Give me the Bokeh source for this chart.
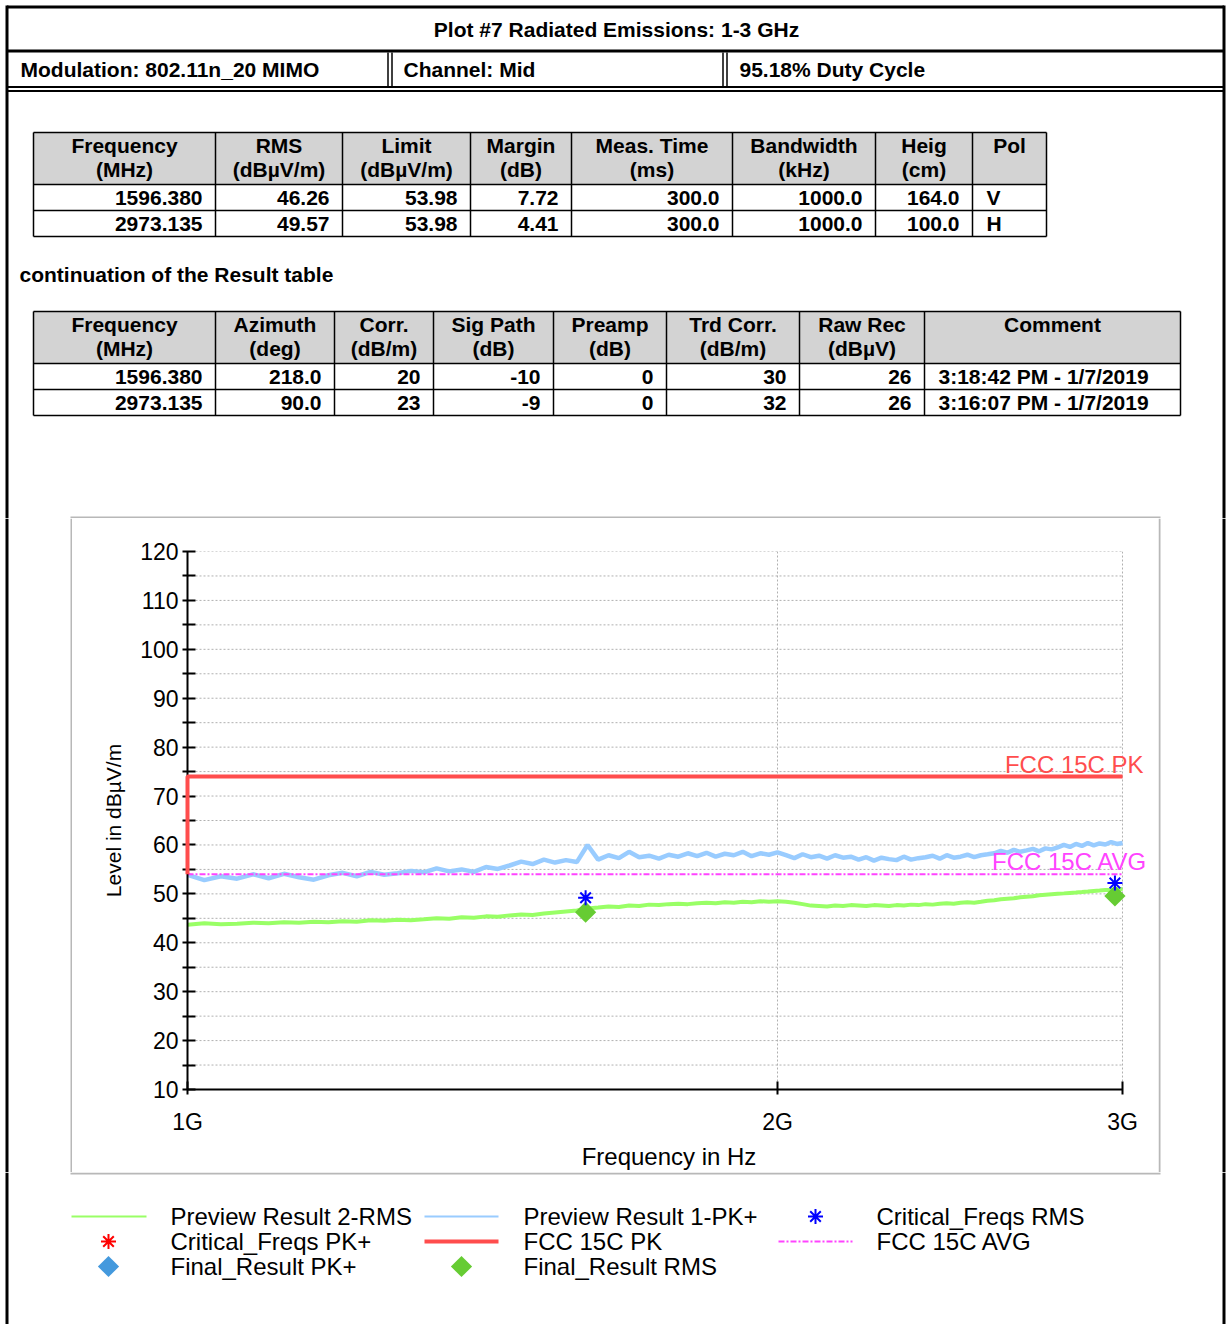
import numpy as np
from bokeh.plotting import figure
from bokeh.layouts import column, row
from bokeh.models import Range1d, FixedTicker, CustomJSTickFormatter, Label
from bokeh.core.properties import value
from bokeh.embed import file_html
from bokeh.resources import INLINE

# ---------------- data ----------------
TITLE = "Plot #7 Radiated Emissions: 1-3 GHz"
HEADER_CELLS = ["Modulation: 802.11n_20 MIMO", "Channel: Mid", "95.18% Duty Cycle"]

T1_HEAD1 = ["Frequency", "RMS", "Limit", "Margin", "Meas. Time", "Bandwidth", "Heig", "Pol"]
T1_HEAD2 = ["(MHz)", "(dBµV/m)", "(dBµV/m)", "(dB)", "(ms)", "(kHz)", "(cm)", ""]
T1_FREQ = ["1596.380", "2973.135"]
T1_RMS = ["46.26", "49.57"]
T1_LIMIT = ["53.98", "53.98"]
T1_MARGIN = ["7.72", "4.41"]
T1_MEAS = ["300.0", "300.0"]
T1_BW = ["1000.0", "1000.0"]
T1_HEIGHT = ["164.0", "100.0"]
T1_POL = ["V", "H"]

T2_HEAD1 = ["Frequency", "Azimuth", "Corr.", "Sig Path", "Preamp", "Trd Corr.", "Raw Rec", "Comment"]
T2_HEAD2 = ["(MHz)", "(deg)", "(dB/m)", "(dB)", "(dB)", "(dB/m)", "(dBµV)", ""]
T2_FREQ = ["1596.380", "2973.135"]
T2_AZIMUTH = ["218.0", "90.0"]
T2_CORR = ["20", "23"]
T2_SIGPATH = ["-10", "-9"]
T2_PREAMP = ["0", "0"]
T2_TRD = ["30", "32"]
T2_RAW = ["26", "26"]
T2_COMMENT = ["3:18:42 PM - 1/7/2019", "3:16:07 PM - 1/7/2019"]
CAPTION = "continuation of the Result  table"

# sweep frequencies (MHz) of the preview traces
SWEEP_MHZ = list(range(1000, 3001, 20))
PREVIEW_PK = [
    53.9, 52.8, 53.6, 53.1, 54.0,
    53.2, 54.1, 53.4, 52.9, 53.8,
    54.3, 53.6, 54.5, 53.9, 54.2, 54.7,
    54.4, 55.2, 54.6, 55.0, 54.5, 55.5, 55.1,
    55.8, 56.6, 56.1, 57.0, 56.4, 56.9, 56.5,
    60.0,
    57.0, 57.9, 57.3, 58.6, 57.5, 57.8, 57.2, 58.0, 57.6, 58.3, 57.7,
    58.4, 57.6, 58.2, 57.9, 58.6, 57.7, 58.3, 58.0, 58.5,
    57.9, 57.3, 58.1, 57.5, 57.8, 57.2, 57.9, 57.4, 57.6,
    57.0, 57.5, 56.8, 57.4, 57.1, 56.9, 57.6, 57.0, 57.3, 57.5,
    57.8, 57.2, 57.9, 57.4, 57.6, 58.0, 57.5, 57.9, 58.1,
    58.3, 58.8, 58.4, 59.0, 58.6, 58.9, 59.2, 58.7, 59.3, 59.1,
    59.5, 60.0, 59.6, 60.2, 59.8, 60.4, 59.9, 60.3, 60.1, 60.6, 60.2, 60.4,
]
PREVIEW_RMS = [
    43.7, 44.0, 43.8, 43.9, 44.1,
    44.0, 44.2, 44.1, 44.3, 44.2,
    44.4, 44.3, 44.6, 44.5, 44.7, 44.6,
    44.8, 45.0, 44.9, 45.2, 45.1, 45.4, 45.3,
    45.6, 45.8, 45.7, 46.0, 46.2, 46.4, 46.6,
    47.0,
    47.2, 47.4, 47.3, 47.6, 47.5, 47.8, 47.7, 47.9, 48.0, 47.9, 48.1,
    48.2, 48.1, 48.3, 48.2, 48.4, 48.3, 48.5, 48.4, 48.5,
    48.4, 48.2, 47.9, 47.6, 47.5, 47.4, 47.6, 47.5, 47.7,
    47.6, 47.5, 47.7, 47.6, 47.5, 47.7, 47.6, 47.8, 47.7, 47.9,
    47.8, 48.0, 48.1, 48.0, 48.2, 48.3, 48.2, 48.4, 48.6,
    48.7, 48.9, 49.0, 49.1, 49.3, 49.4, 49.5, 49.7, 49.8, 49.9,
    50.0, 50.1, 50.2, 50.3, 50.4, 50.5, 50.6, 50.7, 50.8, 50.8, 50.9, 51.0,
]
CRIT_FREQ_MHZ = [1596.380, 2973.135]
CRIT_RMS = [49.2, 52.2]
FINAL_FREQ_MHZ = [1596.380, 2973.135]
FINAL_RMS = [46.26, 49.57]
LIMIT_PK_MHZ = [1000, 1000, 3000]
LIMIT_PK = [54, 74, 74]
LIMIT_AVG_MHZ = [1000, 3000]
LIMIT_AVG = [54, 54]
Y_TICKS = list(range(10, 121, 10))
Y_MINOR = list(range(15, 120, 10))
X_TICKS_HZ = [1e9, 2e9, 3e9]

# colours
C_RMS = "#99ff66"
C_PK = "#99ccff"
C_LIM_PK = "#ff4d4d"
C_LIM_AVG = "#ff44ff"
C_CRIT_RMS = "#0000ff"
C_CRIT_PK = "#ff0000"
C_FINAL_RMS = "#66cc33"
C_FINAL_PK = "#4499dd"
C_BOX = "#b8b8b8"
C_GRID = "#b0b0b0"
FONT = "Liberation Sans"

# ---------------- helpers ----------------
def canvas(x0, x1, y0, y1):
    p = figure(width=x1 - x0, height=y1 - y0,
               x_range=Range1d(x0, x1), y_range=Range1d(y1, y0),
               output_backend="svg", toolbar_location=None,
               x_axis_location=None, y_axis_location=None, min_border=0,
               frame_align=False)
    p.outline_line_color = None
    p.background_fill_color = "white"
    p.border_fill_color = "white"
    p.grid.visible = False
    return p


def seg(p, x0, y0, x1, y1, w=1.5, color="black"):
    p.segment(x0=x0, y0=y0, x1=x1, y1=y1, line_color=color, line_width=w)


def txt(p, xs, ys, texts, align="left", size="21px", bold=True, color="black"):
    p.text(x=xs, y=ys, text=texts, text_align=align, text_baseline="middle",
           text_font=value(FONT), text_font_size=size,
           text_font_style="bold" if bold else "normal", text_color=color)


def draw_table(p, cols, top, head_bot, row_h, head1, head2, rows, aligns):
    right = cols[-1]
    nrows = len(rows)
    p.quad(left=[cols[0]], right=[right], top=[top], bottom=[head_bot],
           fill_color="#d3d3d3", line_color=None)
    ys = [top, head_bot] + [head_bot + row_h * (i + 1) for i in range(nrows)]
    seg(p, [cols[0]] * len(ys), ys, [right] * len(ys), ys, 1.5)
    seg(p, cols, [top] * len(cols), cols, [ys[-1]] * len(cols), 1.5)
    centers = [(a + b) / 2 for a, b in zip(cols[:-1], cols[1:])]
    txt(p, centers, [top + 13] * len(centers), head1, align="center")
    txt(p, centers, [top + 37] * len(centers), head2, align="center")
    for r, vals in enumerate(rows):
        y = head_bot + row_h * r + row_h / 2
        xs = [cols[c + 1] - 13 if aligns[c] == "right" else cols[c] + 14 for c in range(len(vals))]
        for a in ("left", "right"):
            idx = [i for i in range(len(vals)) if aligns[i] == a]
            if idx:
                txt(p, [xs[i] for i in idx], [y] * len(idx), [vals[i] for i in idx], align=a)


# ---------------- page layout ----------------
PX0, PX1 = 0, 1226
PY0, BOX_T, BOX_B, PY1 = 0, 518, 1172, 1324
BOX_L, BOX_R = 72, 1158
LB, RB = 6.5, 1223.5

# top part: header + tables
top = canvas(PX0, PX1, PY0, BOX_T)
seg(top, [LB, LB], [6.5, 50.5], [RB, RB], [6.5, 50.5], 3)
seg(top, [LB, LB], [86.5, 90.5], [RB, RB], [86.5, 90.5], 2)
seg(top, [387.5, 391.5, 722.5, 726.5], [52] * 4, [387.5, 391.5, 722.5, 726.5], [86] * 4, 1.5)
seg(top, [LB, RB], [5, 5], [LB, RB], [BOX_T, BOX_T], 3)
txt(top, [616], [29], [TITLE], align="center")
txt(top, [20, 403, 739], [69, 69, 69], HEADER_CELLS)

T1_ROWS = [list(r) for r in zip(T1_FREQ, T1_RMS, T1_LIMIT, T1_MARGIN, T1_MEAS, T1_BW, T1_HEIGHT, T1_POL)]
draw_table(top, [33, 215, 342, 470, 571, 732, 875, 972, 1046], 132, 184, 26,
           T1_HEAD1, T1_HEAD2, T1_ROWS, ["right"] * 7 + ["left"])
txt(top, [19], [274], [CAPTION])
T2_ROWS = [list(r) for r in zip(T2_FREQ, T2_AZIMUTH, T2_CORR, T2_SIGPATH, T2_PREAMP, T2_TRD, T2_RAW, T2_COMMENT)]
draw_table(top, [33, 215, 334, 433, 553, 666, 799, 924, 1180], 311, 363, 26,
           T2_HEAD1, T2_HEAD2, T2_ROWS, ["right"] * 7 + ["left"])
seg(top, [BOX_L - 2], [BOX_T - 1], [BOX_R + 2], [BOX_T - 1], 2, C_BOX)

# side strips
left = canvas(PX0, BOX_L, BOX_T, BOX_B)
seg(left, [LB], [BOX_T], [LB], [BOX_B], 3)
seg(left, [BOX_L - 1], [BOX_T], [BOX_L - 1], [BOX_B], 2, C_BOX)
right = canvas(BOX_R, PX1, BOX_T, BOX_B)
seg(right, [BOX_R + 1], [BOX_T], [BOX_R + 1], [BOX_B], 2, C_BOX)
seg(right, [RB], [BOX_T], [RB], [BOX_B], 3)

# ---------------- chart ----------------
X_END_HZ = 3.1e9   # frame extends a little past 3 GHz so the limit labels fit
chart = figure(width=BOX_R - BOX_L, height=BOX_B - BOX_T,
               x_axis_type="log", x_range=Range1d(1e9, X_END_HZ), y_range=Range1d(10, 120),
               output_backend="svg", toolbar_location=None, frame_align=False,
               min_border_left=115, min_border_right=8, min_border_top=33, min_border_bottom=77)
chart.outline_line_color = None
chart.background_fill_color = "white"
chart.border_fill_color = "white"

chart.xaxis.ticker = FixedTicker(ticks=X_TICKS_HZ, minor_ticks=[])
chart.xaxis.formatter = CustomJSTickFormatter(code="return (tick / 1e9).toFixed(0) + 'G';")
chart.xaxis.bounds = (X_TICKS_HZ[0], X_TICKS_HZ[-1])
chart.yaxis.ticker = FixedTicker(ticks=Y_TICKS, minor_ticks=Y_MINOR)
for ax in (chart.xaxis[0], chart.yaxis[0]):
    ax.axis_line_width = 2
    ax.axis_line_color = "black"
    ax.major_tick_line_width = 2
    ax.minor_tick_line_width = 2
    ax.major_tick_in = 8
    ax.major_tick_out = 5
    ax.minor_tick_in = 8
    ax.minor_tick_out = 5
    ax.major_label_text_font = FONT
    ax.major_label_text_font_size = "23px"
    ax.major_label_text_color = "black"
    ax.axis_label_text_font = FONT
    ax.axis_label_text_font_style = "normal"
    ax.axis_label_text_color = "black"
chart.xaxis.axis_label = "Frequency in Hz"
chart.xaxis.axis_label_text_font_size = "24px"
chart.xaxis.major_label_standoff = 14
chart.xaxis.axis_label_standoff = 5
chart.yaxis.axis_label = "Level in dBµV/m"
chart.yaxis.axis_label_text_font_size = "21px"
chart.yaxis.major_label_standoff = 4
chart.yaxis.axis_label_standoff = 12

chart.xgrid.grid_line_color = C_GRID
chart.xgrid.grid_line_dash = "2 2"
chart.ygrid.visible = False
grid_levels = sorted(Y_TICKS[1:] + Y_MINOR)
chart.segment(x0=[X_TICKS_HZ[0]] * len(grid_levels), y0=grid_levels,
              x1=[X_TICKS_HZ[-1]] * len(grid_levels), y1=grid_levels,
              line_color=C_GRID, line_dash="2 2", line_width=1)

sweep_hz = [f * 1e6 for f in SWEEP_MHZ]
chart.line(sweep_hz, PREVIEW_PK, line_color=C_PK, line_width=4.5)
chart.line([f * 1e6 for f in LIMIT_AVG_MHZ], LIMIT_AVG, line_color=C_LIM_AVG, line_width=2,
           line_dash="6 2 2 2")
chart.line(sweep_hz, PREVIEW_RMS, line_color=C_RMS, line_width=4)
chart.line([f * 1e6 for f in LIMIT_PK_MHZ], LIMIT_PK, line_color=C_LIM_PK, line_width=4,
           level="overlay")
chart.scatter([f * 1e6 for f in FINAL_FREQ_MHZ], FINAL_RMS, marker="square", angle=np.pi / 4,
              size=15, fill_color=C_FINAL_RMS, line_color=None)
chart.scatter([f * 1e6 for f in CRIT_FREQ_MHZ], CRIT_RMS, marker="asterisk", size=15,
              line_color=C_CRIT_RMS, line_width=2)

chart.add_layout(Label(x=LIMIT_PK_MHZ[-1] * 1e6, y=LIMIT_PK[-1], text="FCC 15C PK",
                       text_align="right", text_baseline="middle", x_offset=21, y_offset=12,
                       text_color=C_LIM_PK, text_font=FONT, text_font_size="24px"))
chart.add_layout(Label(x=LIMIT_AVG_MHZ[-1] * 1e6, y=LIMIT_AVG[-1], text="FCC 15C AVG",
                       text_align="right", text_baseline="middle", x_offset=25, y_offset=13,
                       text_color=C_LIM_AVG, text_font=FONT, text_font_size="24px"))

# ---------------- legend (bottom strip) ----------------
bottom = canvas(PX0, PX1, BOX_B, PY1)
seg(bottom, [BOX_L - 2], [BOX_B + 1], [BOX_R + 2], [BOX_B + 1], 2, C_BOX)
seg(bottom, [LB, RB], [BOX_B, BOX_B], [LB, RB], [PY1, PY1], 3)
R1, R2, R3 = 1216, 1241, 1266
bottom.line([71, 146], [R1, R1], line_color=C_RMS, line_width=2)
bottom.line([424, 498], [R1, R1], line_color=C_PK, line_width=2)
bottom.scatter([815], [R1], marker="asterisk", size=15, line_color=C_CRIT_RMS, line_width=2)
bottom.scatter([108], [R2], marker="asterisk", size=15, line_color=C_CRIT_PK, line_width=2)
bottom.line([424, 498], [R2, R2], line_color=C_LIM_PK, line_width=4)
bottom.line([778, 852], [R2, R2], line_color=C_LIM_AVG, line_width=2, line_dash="6 2 2 2")
bottom.scatter([108], [R3], marker="square", angle=np.pi / 4, size=15, fill_color=C_FINAL_PK, line_color=None)
bottom.scatter([461], [R3], marker="square", angle=np.pi / 4, size=15, fill_color=C_FINAL_RMS, line_color=None)
txt(bottom, [170, 523, 876], [R1] * 3,
    ["Preview Result 2-RMS", "Preview Result 1-PK+", "Critical_Freqs RMS"], size="24px", bold=False)
txt(bottom, [170, 523, 876], [R2] * 3,
    ["Critical_Freqs PK+", "FCC 15C PK", "FCC 15C AVG"], size="24px", bold=False)
txt(bottom, [170, 523], [R3] * 2,
    ["Final_Result PK+", "Final_Result RMS"], size="24px", bold=False)

layout = column(top, row(left, chart, right), bottom)
open("out.html", "w").write(file_html(layout, INLINE))
